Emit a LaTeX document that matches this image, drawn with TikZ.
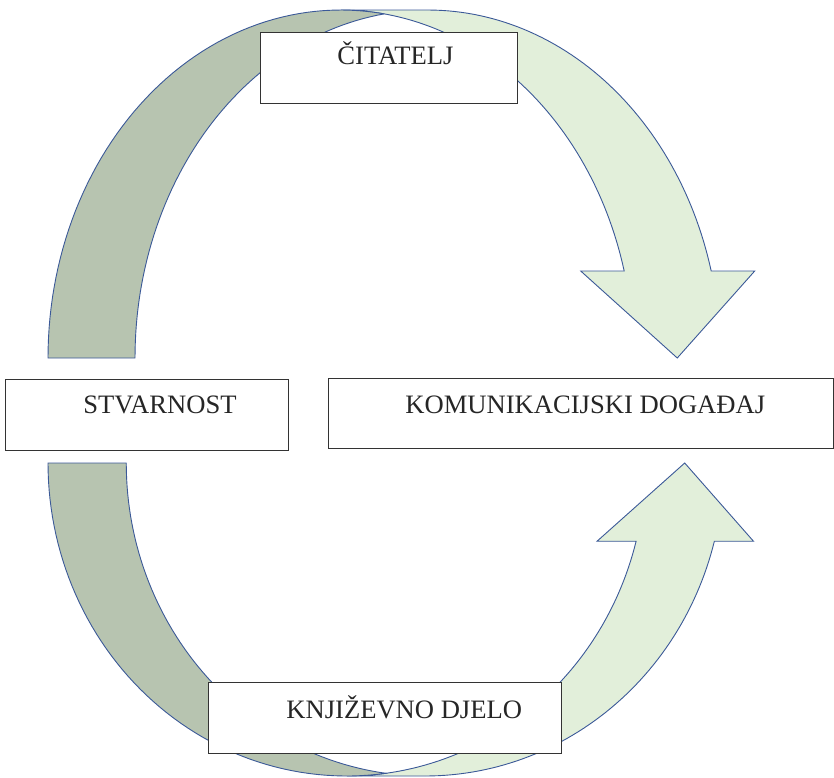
\documentclass[tikz,border=0pt]{standalone}
\usepackage{fontspec}
\setmainfont{Liberation Serif}
\definecolor{bandlightfill}{HTML}{E2EFDA}
\definecolor{banddarkfill}{HTML}{B7C4B0}
\definecolor{bandedge}{HTML}{3B5998}
\begin{document}
\begin{tikzpicture}[x=0.5pt,y=0.5pt,
  lightband/.style={fill=bandlightfill, draw=bandedge, line width=0.45pt},
  darkband/.style={fill=banddarkfill, draw=bandedge, line width=0.45pt},
  box/.style={draw=black!80, fill=white, line width=0.65pt, inner sep=0pt, anchor=north west},
  lbl/.style={font=\fontsize{13.3pt}{16pt}\selectfont, text=black!85, inner sep=0pt, anchor=base west},
  arcpts/.style={samples=60, variable=\t}]

\useasboundingbox (0,0) rectangle (834,-777);

% upper curved arrow: two offset half-ellipses (radii 292.75 x 348)
\filldraw[lightband] (677.25,-358) -- (580.7,-271)
  -- plot[arcpts, domain=14.4775:90] ({340.75+292.75*cos(\t)},{-358+348*sin(\t)})
  -- plot[arcpts, domain=90:14.4775] ({427.75+292.75*cos(\t)},{-358+348*sin(\t)})
  -- (754.7,-271) -- cycle;
\filldraw[darkband]
  plot[arcpts, domain=98.545:180] ({427.75+292.75*cos(\t)},{-358+348*sin(\t)})
  -- plot[arcpts, domain=180:81.455] ({340.75+292.75*cos(\t)},{-358+348*sin(\t)})
  -- cycle;

% lower curved arrow: two offset half-ellipses (radii 298.8 x 313)
\filldraw[lightband] (684.7,-463) -- (597.0,-541.25)
  -- plot[arcpts, domain=-14.4775:-90] ({346.8+298.8*cos(\t)},{-463+313*sin(\t)})
  -- plot[arcpts, domain=-90:-14.4775] ({425.05+298.8*cos(\t)},{-463+313*sin(\t)})
  -- (753.5,-541.25) -- cycle;
\filldraw[darkband]
  plot[arcpts, domain=-97.524:-180] ({425.05+298.8*cos(\t)},{-463+313*sin(\t)})
  -- plot[arcpts, domain=-180:-82.476] ({346.8+298.8*cos(\t)},{-463+313*sin(\t)})
  -- cycle;

% text boxes
\node[box, minimum width=257*0.5pt, minimum height=70.5*0.5pt] (citatelj) at (260,-32) {};
\node[box, minimum width=283*0.5pt, minimum height=71*0.5pt] (stvarnost) at (5,-378.5) {};
\node[box, minimum width=504.5*0.5pt, minimum height=70*0.5pt] (dogadaj) at (328,-378) {};
\node[box, minimum width=353*0.5pt, minimum height=71*0.5pt] (djelo) at (208,-682) {};

% labels
\node[lbl] (citateljtxt) at ([shift={(77,-32)}]citatelj.north west) {ČITATELJ};
\node[lbl] (stvarnosttxt) at ([shift={(78,-35)}]stvarnost.north west) {STVARNOST};
\node[lbl] (dogadajtxt) at ([shift={(77,-35)}]dogadaj.north west) {KOMUNIKACIJSKI DOGAĐAJ};
\node[lbl] (djelotxt) at ([shift={(78,-36.5)}]djelo.north west) {KNJIŽEVNO DJELO};
\end{tikzpicture}
\end{document}
